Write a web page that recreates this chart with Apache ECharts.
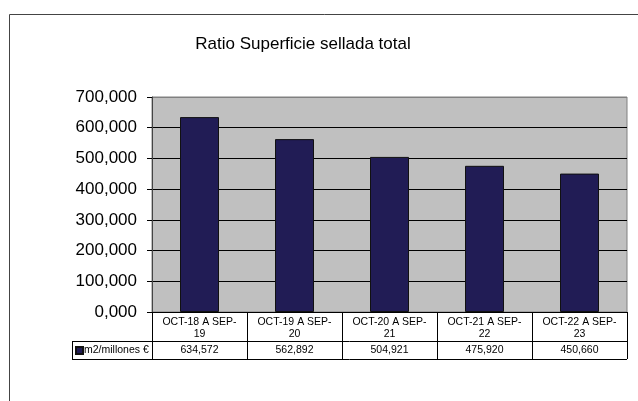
<!DOCTYPE html>
<html>
<head>
<meta charset="utf-8">
<script src="https://cdn.jsdelivr.net/npm/echarts@6/dist/echarts.min.js"></script>
<style>
  html, body { margin: 0; padding: 0; background: #fff; }
  #main { width: 638px; height: 401px; }
</style>
</head>
<body>
<div id="main"></div>
<script>
var periods = ['OCT-18 A SEP-\n19', 'OCT-19 A SEP-\n20', 'OCT-20 A SEP-\n21', 'OCT-21 A SEP-\n22', 'OCT-22 A SEP-\n23'];
var ratio = [634.572, 562.892, 504.921, 475.920, 450.660];
var seriesName = 'm2/millones €';

function fmt(v) {
  return Number(v).toFixed(3).replace('.', ',');
}

var chart = echarts.init(document.getElementById('main'));
var font = 'Liberation Sans, Arial, sans-serif';

// plot box
var L = 152, R = 11, T = 97, B = 89;
var tableRight = 638 - R;

chart.setOption({
  animation: false,
  textStyle: { fontFamily: font },
  title: {
    text: 'Ratio Superficie sellada total',
    left: 298, top: 31, textAlign: 'center',
    textStyle: { fontSize: 17, fontWeight: 'normal', color: '#000', fontFamily: font }
  },
  legend: {
    left: 75, top: 345, padding: 0,
    icon: 'rect', itemWidth: 7, itemHeight: 7,
    textStyle: { fontSize: 10.5, color: '#000', fontFamily: font, padding: [0, 0, 0, -4] },
    data: [seriesName]
  },
  grid: {
    left: L, right: R, top: T, bottom: B,
    show: true, backgroundColor: '#c0c0c0', borderColor: '#808080', borderWidth: 1
  },
  xAxis: [{
    type: 'category',
    data: periods,
    axisLine: { lineStyle: { color: '#000' } },
    axisTick: { show: true, length: 47, lineStyle: { color: '#000' } },
    axisLabel: { interval: 0, fontSize: 10.5, color: '#000', margin: 4, lineHeight: 12, fontFamily: font }
  }, {
    type: 'category',
    position: 'bottom',
    offset: 30,
    data: ratio.map(fmt),
    axisLine: { show: false },
    axisTick: { show: false },
    axisLabel: { interval: 0, fontSize: 10.5, color: '#000', margin: 3, fontFamily: font }
  }],
  yAxis: {
    type: 'value',
    min: 0, max: 700, interval: 100,
    axisLine: { show: true, lineStyle: { color: '#444' } },
    axisTick: { show: true, length: 5, lineStyle: { color: '#000' } },
    splitLine: { lineStyle: { color: ['#000', '#000', '#000', '#000', '#000', '#000', '#000', '#808080'], width: 1 } },
    axisLabel: { fontSize: 17, color: '#000', margin: 15, formatter: fmt, fontFamily: font }
  },
  series: [{
    name: seriesName,
    type: 'bar',
    data: ratio,
    barWidth: 39,
    itemStyle: { color: '#211c55', borderColor: '#111', borderWidth: 1 }
  }],
  graphic: [
    { type: 'rect', shape: { x: 9.5, y: 14.5, width: 700, height: 500 },
      style: { fill: null, stroke: '#444', lineWidth: 1 }, silent: true },
    { type: 'line', shape: { x1: 72, y1: 341.5, x2: tableRight, y2: 341.5 },
      style: { stroke: '#000', lineWidth: 1 } },
    { type: 'line', shape: { x1: 72, y1: 359.5, x2: tableRight, y2: 359.5 },
      style: { stroke: '#000', lineWidth: 1 } },
    { type: 'line', shape: { x1: 72.5, y1: 341.5, x2: 72.5, y2: 359.5 },
      style: { stroke: '#000', lineWidth: 1 } }
  ]
});
</script>
</body>
</html>
